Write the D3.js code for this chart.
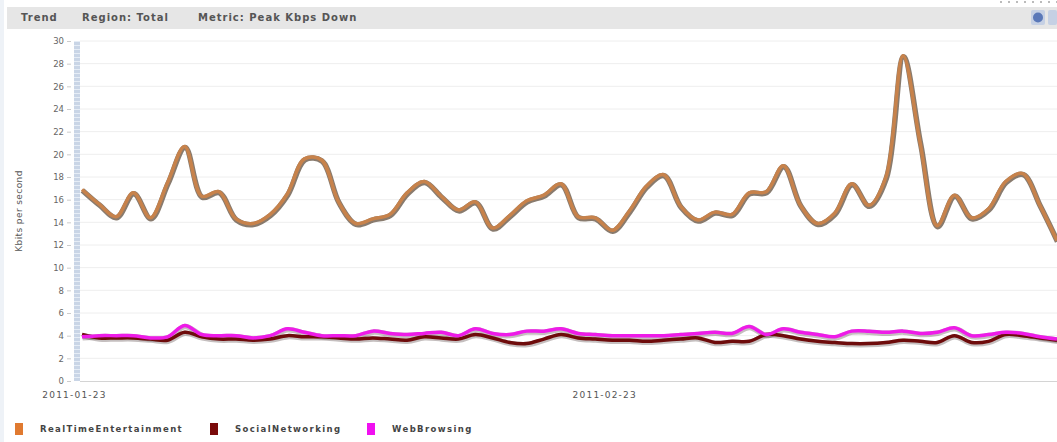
<!DOCTYPE html>
<html><head><meta charset="utf-8">
<script src="https://cdn.jsdelivr.net/npm/d3@7/dist/d3.min.js"></script>
<style>body{margin:0;background:#fff;}svg{display:block;}</style>
</head><body>
<svg id="c" width="1057" height="442"></svg>
<script>
const startDate = "2011-01-23";
const xTickLabels = ["2011-01-23", "2011-02-23"];
const yTicks = [0,2,4,6,8,10,12,14,16,18,20,22,24,26,28,30];
const seriesNames = ["RealTimeEntertainment", "SocialNetworking", "WebBrowsing"];
const seriesColors = ["#c7824b", "#6e0b0b", "#ee1be8"];
const legendColors = ["#e07a30", "#7a0a0a", "#f010f0"];
const realTimeEntertainment = [16.9,15.6,14.5,16.6,14.4,17.5,20.7,16.3,16.7,14.3,13.9,14.7,16.5,19.6,19.5,15.8,13.9,14.3,14.7,16.6,17.6,16.3,15.1,15.8,13.5,14.6,15.9,16.4,17.4,14.5,14.4,13.3,15.0,17.2,18.2,15.4,14.2,14.9,14.7,16.6,16.7,19.0,15.5,13.9,14.8,17.4,15.5,18.0,28.7,21.0,13.7,16.4,14.4,15.2,17.6,18.3,15.5,12.4];
const socialNetworking = [4.1,3.8,3.8,3.8,3.7,3.6,4.3,3.9,3.7,3.7,3.6,3.7,4.0,3.9,3.9,3.8,3.7,3.8,3.7,3.6,3.9,3.8,3.7,4.1,3.8,3.4,3.3,3.7,4.1,3.8,3.7,3.6,3.6,3.5,3.6,3.7,3.8,3.4,3.5,3.5,4.1,4.0,3.7,3.5,3.4,3.3,3.3,3.4,3.6,3.5,3.4,4.0,3.4,3.5,4.1,4.0,3.8,3.6];
const webBrowsing = [3.9,4.0,4.0,4.0,3.8,3.9,4.9,4.1,4.0,4.0,3.8,4.0,4.6,4.3,4.0,4.0,4.0,4.4,4.2,4.1,4.2,4.3,4.0,4.6,4.2,4.1,4.4,4.4,4.6,4.2,4.1,4.0,4.0,4.0,4.0,4.1,4.2,4.3,4.2,4.8,4.1,4.6,4.3,4.1,3.9,4.4,4.4,4.3,4.4,4.2,4.3,4.7,4.0,4.1,4.3,4.2,3.9,3.7];

const parse = d3.timeParse("%Y-%m-%d");
const t0 = parse(startDate);
const dates = realTimeEntertainment.map((_, i) => d3.timeDay.offset(t0, i));
const allSeries = [realTimeEntertainment, socialNetworking, webBrowsing];

const svg = d3.select("#c");
const W = 1057, H = 442;
const plot = {left: 80, right: 1057, top: 41, bottom: 381};
const FONT = "DejaVu Sans, Verdana, sans-serif";

// header bar
svg.append("rect").attr("x",7).attr("y",7).attr("width",W-7).attr("height",22).attr("fill","#e6e6e6");
svg.append("rect").attr("x",0).attr("y",0).attr("width",4).attr("height",H).attr("fill","#eef2f7");
const headers = [["Trend", 21], ["Region: Total", 82], ["Metric: Peak Kbps Down", 198]];
headers.forEach(([t, hx]) => {
  svg.append("text").attr("x",hx).attr("y",21).attr("font-family",FONT)
    .attr("font-size",10).attr("font-weight","bold").attr("fill","#555").attr("letter-spacing",1.0)
    .text(t);
});
// top right icons
svg.append("rect").attr("x",1031).attr("y",10).attr("width",14).attr("height",15).attr("rx",2).attr("fill","#c5d0e4");
svg.append("circle").attr("cx",1038).attr("cy",17.5).attr("r",5).attr("fill","#5a78b8");
svg.append("rect").attr("x",1048).attr("y",10).attr("width",9).attr("height",15).attr("rx",2).attr("fill","#c5d0e4");
for (let i = 0; i < 8; i++) svg.append("rect").attr("x",1000 + i*8).attr("y",1).attr("width",2).attr("height",2).attr("fill","#bbb");

const x = d3.scaleTime().domain([t0, d3.timeDay.offset(t0, 57)]).range([plot.left + 2, plot.right]);
const y = d3.scaleLinear().domain([0, 30]).range([plot.bottom, plot.top]);

// gridlines
svg.append("g").selectAll("line").data(yTicks.filter(v => v > 0)).join("line")
  .attr("x1", plot.left).attr("x2", plot.right)
  .attr("y1", d => y(d)).attr("y2", d => y(d))
  .attr("stroke", "#eeeeee").attr("stroke-width", 1);

// x axis line
svg.append("line").attr("x1", plot.left).attr("x2", plot.right).attr("y1", plot.bottom+0.5).attr("y2", plot.bottom+0.5)
  .attr("stroke","#d4d4d4");

// y axis
const yAxis = d3.axisLeft(y).tickValues(yTicks).tickSize(4).tickPadding(3);
const gy = svg.append("g").attr("transform", `translate(71,0)`).call(yAxis);
gy.select(".domain").remove();
gy.selectAll("line").attr("stroke","#ccc");
gy.selectAll("text").attr("font-family",FONT).attr("font-size",8.5).attr("fill","#666");

// axis band
svg.append("rect").attr("x",74).attr("y",plot.top).attr("width",6).attr("height",plot.bottom-plot.top)
  .attr("fill","#c9d5e6");
svg.append("line").attr("x1",77).attr("x2",77).attr("y1",plot.top).attr("y2",plot.bottom)
  .attr("stroke","#e6edf6").attr("stroke-width",6).attr("stroke-dasharray","1,3");

// y label
svg.append("text").attr("transform","translate(22,211) rotate(-90)").attr("text-anchor","middle")
  .attr("font-family",FONT).attr("font-size",9).attr("fill","#555").attr("letter-spacing",0.4)
  .text("Kbits per second");

// x axis labels
const xAxis = d3.axisBottom(x).tickValues(xTickLabels.map(parse)).tickFormat(d3.timeFormat("%Y-%m-%d")).tickSize(0).tickPadding(11);
const gx = svg.append("g").attr("transform", `translate(-8,${plot.bottom})`).call(xAxis);
gx.select(".domain").remove();
gx.selectAll("text").attr("font-family",FONT).attr("font-size",9).attr("fill","#555").attr("letter-spacing",1.2);

// lines
svg.append("clipPath").attr("id","clp").append("rect")
  .attr("x", plot.left).attr("y", 0).attr("width", plot.right - plot.left).attr("height", plot.bottom);
const line = d3.line().x((d, i) => x(dates[i])).y(d => y(d)).curve(d3.curveCatmullRom.alpha(0.5));
const lg = svg.append("g").attr("clip-path","url(#clp)");
const drawOrder = [0, 1, 2];
drawOrder.forEach(k => {
  lg.append("path").attr("d", line(allSeries[k])).attr("fill","none")
    .attr("stroke", k === 0 ? "#6b5a4a" : "rgba(40,20,20,0.45)")
    .attr("stroke-width", 5.5).attr("transform","translate(0.5,1)").attr("opacity", k === 0 ? 0.8 : 0.6);
});
drawOrder.forEach(k => {
  lg.append("path").attr("d", line(allSeries[k])).attr("fill","none")
    .attr("stroke", seriesColors[k]).attr("stroke-width", 3.5).attr("stroke-linejoin","round");
});

// legend
const legX = [15, 210, 367];
seriesNames.forEach((n, i) => {
  svg.append("rect").attr("x", legX[i]).attr("y", 423).attr("width", 8).attr("height", 12).attr("fill", legendColors[i]);
  svg.append("text").attr("x", legX[i] + 25).attr("y", 432)
    .attr("font-family",FONT).attr("font-size",8.5).attr("font-weight","bold").attr("fill","#444").attr("letter-spacing",1.4)
    .text(n);
});
</script>
</body></html>
